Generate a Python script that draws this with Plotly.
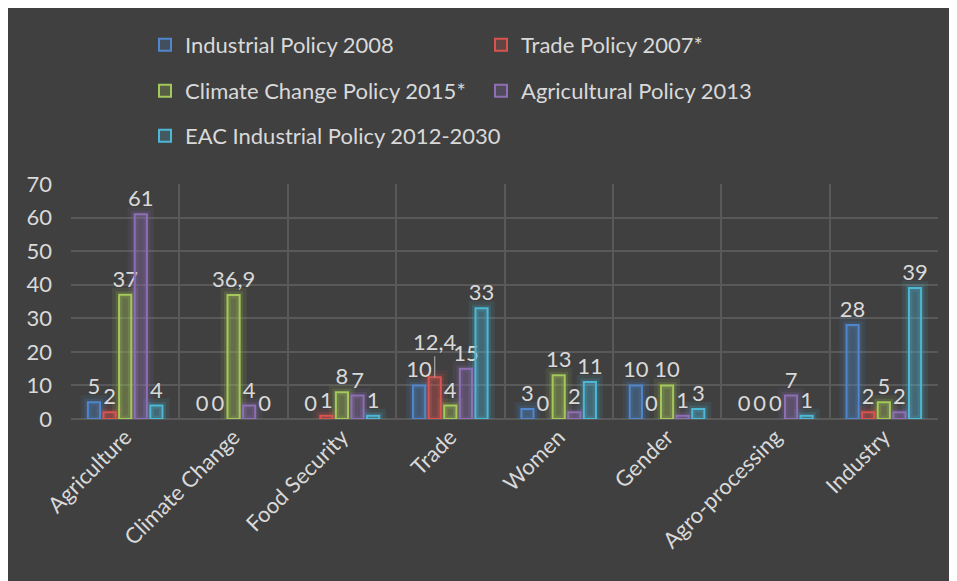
import plotly.graph_objects as go

categories = ["Agriculture", "Climate Change", "Food Security", "Trade",
              "Women", "Gender", "Agro-processing", "Industry"]
series_names = ["Industrial Policy 2008", "Trade Policy 2007*",
                "Climate Change Policy 2015*", "Agricultural Policy 2013",
                "EAC Industrial Policy 2012-2030"]
industrial_2008 = [5, 0, 0, 10, 3, 10, 0, 28]
trade_2007 = [2, 0, 1, 12.4, 0, 0, 0, 2]
climate_2015 = [37, 36.9, 8, 4, 13, 10, 0, 5]
agricultural_2013 = [61, 4, 7, 15, 2, 1, 7, 2]
eac_2012_2030 = [4, 0, 1, 33, 11, 3, 1, 39]
series_values = [industrial_2008, trade_2007, climate_2015, agricultural_2013, eac_2012_2030]
y_ticks = [0, 10, 20, 30, 40, 50, 60, 70]

colors = ["79,134,204", "217,83,79", "165,200,90", "142,111,181", "77,184,214"]

# figure sits inside the page's 8px body margin
W, H = 949, 573
L, R, T, B = 63, 19, 176, 162
FONT = "Lato, Open Sans, sans-serif"
FS = 22
TXT = "#d9d9d9"

def fmt(v):
    s = ("%g" % v)
    return s.replace(".", ",")

fig = go.Figure()

# soft glow layers (two widths per series, sharing the bar slot)
for gw, ga in [(14, 0.10), (7, 0.16)]:
    for i, (name, vals) in enumerate(zip(series_names, series_values)):
        fig.add_trace(go.Bar(
            x=categories, y=vals, name=name + " glow", showlegend=False,
            offsetgroup=str(i), hoverinfo="skip",
            marker=dict(color="rgba(%s,0.05)" % colors[i],
                        line=dict(color="rgba(%s,%s)" % (colors[i], ga),
                                  width=[gw if v else 0 for v in vals])),
        ))

legend_ids = ["legend", "legend2", "legend3", "legend4", "legend5"]
for i, (name, vals) in enumerate(zip(series_names, series_values)):
    texts = [fmt(v) for v in vals]
    if i == 1:
        texts[3] = ""
    fig.add_trace(go.Bar(
        x=categories, y=vals, name=name, offsetgroup=str(i),
        legend=legend_ids[i],
        text=texts, textposition="outside", textangle=0,
        constraintext="none", cliponaxis=False,
        textfont=dict(family=FONT, size=FS, color=TXT),
        marker=dict(color="rgba(%s,0.22)" % colors[i],
                    line=dict(color="rgb(%s)" % colors[i],
                              width=[2 if v else 0 for v in vals])),
    ))

# callout label for Trade Policy / Trade
fig.add_annotation(x=categories.index("Trade"), y=trade_2007[3], xshift=-15.6,
                   text=fmt(trade_2007[3]), showarrow=True, arrowhead=0,
                   arrowwidth=1.2, arrowcolor="#a6a6a6", ax=0, ay=-36,
                   font=dict(family=FONT, size=FS, color=TXT))

# legends positioned individually (figure pixel coordinates)
leg_pos = [(137, 37), (473, 37), (137, 83), (473, 83), (137, 128)]
layout_legends = {}
for lid, (px, py) in zip(legend_ids, leg_pos):
    layout_legends[lid] = dict(
        x=px / W, y=1 - py / H, xref="container", yref="container",
        xanchor="left", yanchor="middle", bgcolor="rgba(0,0,0,0)",
        font=dict(family=FONT, size=FS, color=TXT), itemwidth=30,
    )

fig.update_layout(
    width=W, height=H,
    margin=dict(l=L, r=R, t=T, b=B, autoexpand=False),
    paper_bgcolor="#404040", plot_bgcolor="#404040",
    barmode="group", bargap=0.28, bargroupgap=0.22,
    font=dict(family=FONT, color=TXT),
    xaxis=dict(type="category", categoryorder="array", categoryarray=categories,
               range=[-0.5, len(categories) - 0.5],
               tickson="boundaries", showgrid=True,
               gridcolor="#595959", gridwidth=1.5, tickangle=-45, ticks="",
               showline=False, zeroline=False,
               tickfont=dict(family=FONT, size=FS, color=TXT)),
    yaxis=dict(range=[0, 70], tickvals=y_ticks, showgrid=True,
               gridcolor="#595959", gridwidth=1.5, zeroline=True,
               zerolinecolor="#595959", zerolinewidth=1.5, showline=False,
               ticks="", ticklabelstandoff=18,
               tickfont=dict(family=FONT, size=FS, color=TXT)),
    **layout_legends,
)

fig.write_html("out.html")
